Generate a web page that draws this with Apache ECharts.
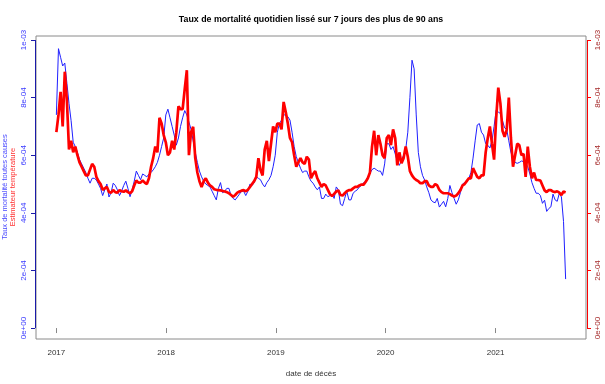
<!DOCTYPE html>
<html><head><meta charset="utf-8">
<script src="https://cdn.jsdelivr.net/npm/echarts@6/dist/echarts.min.js"></script>
<style>html,body{margin:0;padding:0;background:#fff}#c{width:605px;height:384px}</style>
</head><body><div id="c"></div>
<script>
// ---- data (values in units of 1e-4) ----
const startDate = '2017-01-01';
const stepDays = 7;
const UNIT = 1e-4;
const blueE4 = [
7.4,9.7,9.4,9.1,9.2,8.5,7.8,7.2,6.45,6.3,
6.1,5.85,5.7,5.55,5.4,5.2,5.03,5.2,5.2,5.14,
5.0,4.85,4.6,4.8,5.0,4.55,4.7,5.03,4.95,4.8,
4.6,4.75,4.95,5.1,4.85,4.56,4.8,5.1,5.45,5.3,
5.15,5.35,5.3,5.25,5.35,5.4,5.49,5.6,5.75,6.0,
6.3,6.6,7.4,7.6,7.3,7.0,6.7,6.35,6.6,7.0,
7.3,7.55,7.4,7.15,6.9,6.5,6.1,5.75,5.45,5.25,
5.1,5.0,4.95,4.9,4.75,4.6,4.45,4.85,5.05,4.7,
4.75,4.85,4.85,4.6,4.5,4.45,4.55,4.65,4.75,4.75,
4.6,4.75,5.0,4.95,5.05,5.25,5.2,5.15,5.0,4.9,
5.05,5.15,5.3,5.6,6.0,6.8,7.1,7.22,7.4,7.4,
7.34,7.22,6.8,6.3,5.95,5.75,5.55,5.4,5.45,5.45,
5.25,5.1,5.03,4.9,4.8,4.9,4.5,4.5,4.65,4.56,
4.6,4.65,4.5,4.9,4.8,4.3,4.25,4.5,4.75,4.45,
4.45,4.68,4.75,4.8,4.9,4.95,5.05,5.1,5.25,5.37,
5.5,5.55,5.5,5.45,5.45,5.3,5.7,6.4,6.4,6.2,
6.3,6.05,5.8,5.65,5.83,6.0,6.2,6.8,8.0,9.3,
9.0,7.4,6.1,5.6,5.3,5.14,4.9,4.7,4.45,4.38,
4.35,4.5,4.2,4.3,4.4,4.21,4.5,4.95,4.7,4.5,
4.3,4.45,4.7,5.0,5.05,5.1,5.2,5.4,5.9,6.5,
7.05,7.1,6.8,6.7,6.4,6.35,6.25,6.5,7.0,7.57,
7.5,7.45,7.2,6.95,6.9,6.5,6.1,5.9,5.75,5.72,
5.75,5.8,5.78,5.72,5.6,5.35,5.05,4.85,4.68,4.68,
4.6,4.33,4.44,4.05,4.15,4.21,4.65,4.45,4.4,4.68,
4.55,3.7,1.7
];
const redE4 = [
6.8,7.4,8.2,7.0,8.9,7.9,6.2,6.5,6.1,6.3,
6.0,5.75,5.6,5.45,5.3,5.3,5.5,5.7,5.6,5.25,
5.1,5.0,4.8,4.85,4.9,4.72,4.7,4.79,4.72,4.7,
4.79,4.75,4.73,4.78,4.72,4.68,4.75,4.95,5.12,5.05,
5.05,5.12,5.05,5.0,5.2,5.6,5.9,6.3,6.1,7.3,
7.1,6.7,6.45,6.0,6.1,6.5,6.2,6.8,7.7,7.6,
7.6,8.3,8.95,6.0,6.8,6.99,5.9,5.4,5.1,4.9,
5.1,5.2,5.05,4.95,4.9,4.82,4.8,4.79,4.78,4.76,
4.74,4.72,4.68,4.62,4.56,4.62,4.7,4.74,4.77,4.79,
4.75,4.8,4.9,5.0,5.1,5.25,5.9,5.49,5.3,6.2,
6.5,5.8,6.4,7.0,6.8,7.1,7.1,6.9,7.85,7.5,
7.1,6.6,6.45,6.0,5.6,5.75,5.9,5.75,5.7,5.95,
5.85,5.2,5.35,5.45,5.2,5.05,4.9,5.0,4.95,4.8,
4.65,4.58,4.66,4.74,4.78,4.62,4.6,4.68,4.75,4.79,
4.79,4.85,4.9,4.9,4.95,4.98,4.98,5.08,5.2,5.4,
6.3,6.85,6.0,6.7,6.4,6.0,5.9,6.6,6.7,6.35,
6.9,6.6,5.65,6.1,5.72,5.9,6.3,5.95,5.45,5.3,
5.2,5.14,5.1,5.03,5.03,5.1,5.1,4.95,4.9,4.9,
5.0,4.95,4.8,4.72,4.68,4.68,4.68,4.65,4.6,4.57,
4.6,4.68,4.79,4.95,5.0,5.1,5.2,5.2,5.55,5.4,
5.25,5.2,5.3,5.3,6.1,6.6,7.0,6.4,5.85,7.3,
8.35,7.8,6.85,6.64,6.88,8.0,6.6,5.6,6.0,6.4,
6.35,6.0,6.05,5.25,6.3,5.6,5.2,5.4,5.14,5.14,
5.12,4.95,4.78,4.72,4.79,4.79,4.74,4.72,4.75,4.7,
4.62,4.74,4.71
];
const xTickDates = ['2017-01-01','2018-01-01','2019-01-01','2020-01-01','2021-01-01'];
const xTickLabels = ['2017','2018','2019','2020','2021'];
const yTickValues = [0, 2e-4, 4e-4, 6e-4, 8e-4, 1e-3];
const yTickLabels = ['0e+00','2e-04','4e-04','6e-04','8e-04','1e-03'];
const titleText = 'Taux de mortalité quotidien lissé sur 7 jours des plus de 90 ans';
const xName = 'date de décès';
const yNameBlue = 'Taux de mortalité toutes causes';
const yNameRed = 'Estimateur température';

// ---- build ----
const DAY = 86400000;
const t0 = Date.parse(startDate + 'T00:00:00Z');
const dates = blueE4.map((_, i) => t0 + i * stepDays * DAY);
const blueData = dates.map((t, i) => [t, blueE4[i] * UNIT]);
const redData = dates.map((t, i) => [t, redE4[i] * UNIT]);
const tFirst = dates[0], tLast = dates[dates.length - 1];
const xPad = (tLast - tFirst) * 0.04;
const xTicks = xTickDates.map(d => Date.parse(d + 'T00:00:00Z'));
const yMin = -0.38e-4, yMax = 10.14e-4;

const FONT = '"Liberation Sans", Arial, Helvetica, sans-serif';
const G = {left: 36, right: 19, top: 36, bottom: 45};
const W = 605, H = 384;
const plotCx = G.left + (W - G.left - G.right) / 2;

function yLabel(v) { const i = yTickValues.findIndex(t => Math.abs(t - v) < 1e-12); return i >= 0 ? yTickLabels[i] : ''; }
function xLabel(v) { const i = xTicks.findIndex(t => Math.abs(t - v) < 1000); return i >= 0 ? xTickLabels[i] : ''; }

function yAxisCfg(pos, tickColor, labelColor) {
  return {
    type: 'value', position: pos, min: yMin, max: yMax, offset: 1,
    splitLine: {show: false}, axisLine: {show: false},
    axisTick: {show: true, length: 4, inside: false, customValues: yTickValues, lineStyle: {color: tickColor, width: 1}},
    axisLabel: {show: true, customValues: yTickValues, formatter: yLabel, rotate: 90, margin: 7,
      color: labelColor, fontSize: 8, fontFamily: FONT}
  };
}

const chart = echarts.init(document.getElementById('c'), null, {renderer: 'canvas'});
chart.setOption({
  animation: false,
  backgroundColor: '#fff',
  grid: {left: G.left, right: G.right, top: G.top, bottom: G.bottom, show: true, borderColor: '#8a8a8a', borderWidth: 1, backgroundColor: 'transparent'},
  xAxis: {
    type: 'value', min: tFirst - xPad, max: tLast + xPad,
    splitLine: {show: false}, axisLine: {show: false},
    axisTick: {show: true, length: 5, customValues: xTicks, lineStyle: {color: '#888'}},
    axisLabel: {customValues: xTicks, formatter: xLabel, margin: 10, color: '#333', fontSize: 8, fontFamily: FONT}
  },
  yAxis: [yAxisCfg('left', '#1a1aa8', '#3b3bff'), yAxisCfg('right', '#ff0000', '#a52a2a')],
  series: [
    {type: 'line', data: blueData, yAxisIndex: 0, symbol: 'none', silent: true, z: 2,
      lineStyle: {color: '#1f1fff', width: 1}, itemStyle: {color: '#1f1fff'}},
    {type: 'line', data: redData, yAxisIndex: 1, symbol: 'none', silent: true, z: 3,
      lineStyle: {color: '#ff0000', width: 2.7}, itemStyle: {color: '#ff0000'}}
  ]
});

const yTopPx = chart.convertToPixel({yAxisIndex: 0}, yTickValues[yTickValues.length - 1]);
const yBotPx = chart.convertToPixel({yAxisIndex: 0}, yTickValues[0]);
const leftX = G.left - 0.5;
const rightX = W - G.right + 1.5;

chart.setOption({
  graphic: [
    {type: 'text', x: plotCx, y: 20, silent: true,
      style: {text: titleText, font: 'bold 8.8px ' + FONT, fill: '#000', align: 'center', verticalAlign: 'middle'}},
    {type: 'text', x: plotCx, y: 374, silent: true,
      style: {text: xName, font: '8px ' + FONT, fill: '#333', align: 'center', verticalAlign: 'middle'}},
    {type: 'text', x: 5, y: 187, rotation: Math.PI / 2, silent: true,
      style: {text: yNameBlue, font: '7.5px ' + FONT, fill: '#4b4bff', align: 'center', verticalAlign: 'middle'}},
    {type: 'text', x: 13, y: 187, rotation: Math.PI / 2, silent: true,
      style: {text: yNameRed, font: '7.5px ' + FONT, fill: '#ff3030', align: 'center', verticalAlign: 'middle'}},
    {type: 'line', silent: true, shape: {x1: leftX, y1: yTopPx, x2: leftX, y2: yBotPx},
      style: {stroke: '#1a1aa8', lineWidth: 1}},
    {type: 'line', silent: true, shape: {x1: rightX, y1: yTopPx, x2: rightX, y2: yBotPx},
      style: {stroke: '#ff0000', lineWidth: 1}}
  ]
});
</script>
</body></html>
